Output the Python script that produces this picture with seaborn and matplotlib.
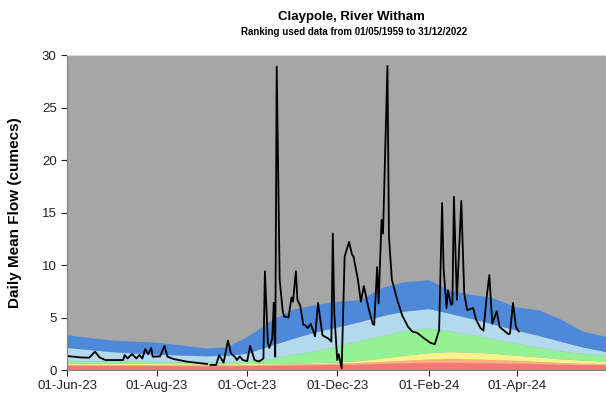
import numpy as np
import pandas as pd
import matplotlib
matplotlib.use("Agg")
import matplotlib.pyplot as plt
import matplotlib.dates as mdates
import seaborn as sns

# ---- data -----------------------------------------------------------------
start = pd.Timestamp("2023-06-01")

# Daily mean flow (cumecs), day offsets from 1 Jun 2023; NaN marks missing data
flow_day = [0, 9, 15, 19, 22, 26, 38, 39, 41, 44, 47, 49, 51, 53, 55, 57, 58,
            63, 66, 68, 72, 81, 95, 96, 97, 101, 103, 106, 109, 111, 114, 115,
            117, 119, 122, 124, 127, 130, 133, 134, 136, 137, 139, 140, 141,
            142, 144, 146, 147, 150, 152, 153, 155, 156, 158, 160, 161, 163,
            165, 168, 170, 173, 177, 179, 180, 181, 183, 184, 186, 188, 191,
            192, 193, 194, 197, 199, 201, 204, 207, 208, 210, 211, 213, 214,
            217, 218, 220, 224, 227, 231, 234, 237, 242, 246, 249, 252, 254,
            255, 257, 258, 260, 261, 262, 264, 267, 269, 271, 275, 277, 280,
            282, 284, 286, 288, 291, 293, 296, 299, 300, 302, 304, 306]
flow_val = [1.33, 1.2, 1.17, 1.75, 1.2, 0.95, 0.95, 1.43, 1.1, 1.52, 1.1, 1.43,
            1.1, 2.0, 1.5, 2.1, 1.27, 1.3, 2.3, 1.27, 1.05, 0.8, 0.57, np.nan,
            0.48, 0.48, 1.43, 0.7, 2.8, 1.6, 1.2, 0.95, 1.3, 0.95, 0.85, 2.3,
            0.95, 0.8, 1.1, 9.4, 2.6, 2.1, 3.0, 6.4, 1.27, 28.9, 8.6, 5.7, 5.1,
            5.0, 6.9, 6.5, 9.4, 6.7, 6.1, 4.3, 4.3, 4.0, 4.4, 3.2, 6.4, 3.3,
            3.0, 2.7, 13.0, 5.4, 0.95, 1.5, 0.15, 10.8, 12.2, 11.6, 11.0, 10.8,
            8.6, 6.5, 8.0, 6.0, 4.4, 4.3, 9.8, 6.35, 14.3, 13.0, 28.95, 12.7,
            8.6, 6.5, 5.2, 4.1, 3.65, 3.55, 3.0, 2.6, 2.45, 3.8, 15.9, 9.7, 5.9,
            7.6, 6.2, 6.3, 16.5, 6.7, 16.1, 7.3, 5.7, 5.9, 4.8, 4.0, 3.75, 6.7,
            9.05, 4.4, 5.6, 4.1, 3.75, 3.4, 3.5, 6.4, 4.1, 3.65]

# Long-term flow bands (upper edge of each band) by day of the season
band_day = [0, 30, 61, 94, 108, 122, 139, 153, 167, 180, 198, 214, 228, 245,
            259, 274, 288, 304, 319, 335, 349, 365]
red_top = [0.45, 0.43, 0.42, 0.4, 0.4, 0.42, 0.45, 0.48, 0.5, 0.52, 0.57, 0.63,
           0.68, 0.72, 0.72, 0.7, 0.68, 0.65, 0.6, 0.55, 0.52, 0.5]
orange_top = [0.55, 0.53, 0.52, 0.5, 0.5, 0.52, 0.55, 0.58, 0.62, 0.65, 0.72,
              0.82, 0.92, 1.05, 1.1, 1.05, 1.0, 0.92, 0.82, 0.72, 0.65, 0.6]
yellow_top = [0.65, 0.63, 0.62, 0.6, 0.6, 0.62, 0.64, 0.66, 0.7, 0.75, 0.9,
              1.15, 1.4, 1.65, 1.75, 1.7, 1.6, 1.4, 1.25, 1.05, 0.95, 0.85]
green_top = [0.9, 0.85, 0.8, 0.75, 0.78, 0.85, 1.1, 1.5, 1.8, 2.2, 2.8, 3.3,
             3.75, 4.0, 3.7, 3.35, 3.0, 2.55, 2.2, 1.8, 1.6, 1.4]
lightblue_top = [2.15, 1.75, 1.5, 1.35, 1.4, 1.6, 2.4, 3.0, 3.6, 4.0, 4.6, 5.2,
                 5.6, 5.85, 5.4, 4.9, 4.4, 3.8, 3.3, 2.7, 2.2, 1.75]
blue_top = [3.35, 2.85, 2.65, 2.1, 2.2, 3.2, 4.8, 5.8, 6.2, 6.5, 6.7, 7.9, 8.4,
            8.6, 7.6, 7.2, 6.9, 6.0, 5.75, 4.8, 3.7, 3.2]

y_ticks = [0, 5, 10, 15, 20, 25, 30]

# ---- figure ---------------------------------------------------------------
sns.set_theme(style="white")
plt.rcParams["font.family"] = ["Liberation Sans", "DejaVu Sans"]

fig = plt.figure(figsize=(6.06, 3.94), dpi=100)
ax = fig.add_axes([0.1106, 0.0609, 0.8894, 0.7995])
ax.set_facecolor("#a6a6a6")

bx = start + pd.to_timedelta(band_day, unit="D")
layers = [
    (np.zeros(len(band_day)), red_top, "#f47676"),
    (red_top, orange_top, "#f9b07e"),
    (orange_top, yellow_top, "#fbf28c"),
    (yellow_top, green_top, "#94f294"),
    (green_top, lightblue_top, "#b2d9ec"),
    (lightblue_top, blue_top, "#4e88d8"),
]
for lo, hi, col in layers:
    ax.fill_between(bx, lo, hi, color=col, linewidth=0)

flow = pd.DataFrame({
    "date": start + pd.to_timedelta(flow_day, unit="D"),
    "flow": flow_val,
})
flow["segment"] = flow["flow"].isna().cumsum()
flow = flow.dropna()
sns.lineplot(data=flow, x="date", y="flow", units="segment", estimator=None,
             color="black", linewidth=1.3, ax=ax, legend=False)

ax.set_xlim(start, start + pd.Timedelta(days=365))
ax.set_ylim(0, 30)
ax.set_yticks(y_ticks)
ax.xaxis.set_major_locator(mdates.MonthLocator(bymonth=[2, 4, 6, 8, 10, 12]))
ax.xaxis.set_major_formatter(mdates.DateFormatter("%d-%b-%y"))

ax.tick_params(axis="both", which="major", labelsize=9.5, colors="#222222",
               length=4, width=0.8, direction="out", left=True, bottom=True)
ax.set_xlabel("")
ax.set_ylabel("Daily Mean Flow (cumecs)", fontsize=11, fontweight="bold",
              color="black", labelpad=14)

for side in ("right",):
    ax.spines[side].set_visible(False)
ax.spines["left"].set_color("#808080")
ax.spines["bottom"].set_color("#808080")
ax.spines["top"].set_color("#d9d9d9")
for s in ax.spines.values():
    s.set_linewidth(0.8)

fig.text(0.58, 0.957, "Claypole, River Witham", ha="center", va="center",
         fontsize=9.5, fontweight="bold", color="black")
fig.text(0.584, 0.919, "Ranking used data from 01/05/1959 to 31/12/2022",
         ha="center", va="center", fontsize=7, fontweight="bold", color="black")

fig.savefig("out.png", dpi=100)
